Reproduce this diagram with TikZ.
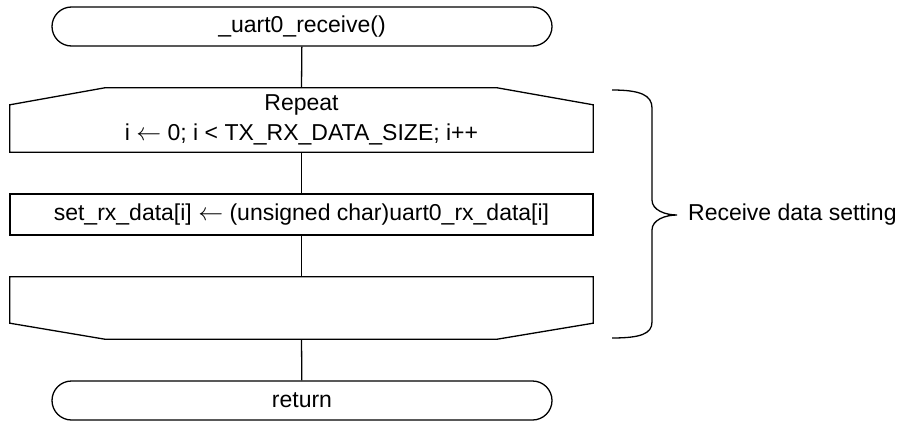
\documentclass[tikz,border=0pt]{standalone}
\usepackage{fontspec}
\setmainfont{Liberation Sans}
\usetikzlibrary{shapes.misc}
\newcommand{\assign}{\ensuremath{\leftarrow}}
\begin{document}
\begin{tikzpicture}[x=1pt,y=-1pt,
  every node/.style={font=\fontsize{23}{30}\selectfont, inner sep=0pt},
  line/.style={line width=1.3pt, line join=miter},
  term/.style={line, draw, rounded rectangle, minimum width=500pt, minimum height=39pt},
  area/.style={minimum width=583pt, align=center},
  procbox/.style={line, draw, minimum width=583pt, minimum height=41pt}]
\useasboundingbox (0,0) rectangle (905,423);

% terminals
\node[term] (start) at (302,26.5) {\_uart0\_receive()};
\node[term] (ret) at (302,400.5) {return};

% loop head
\node[area, minimum height=64pt] (loophead) at (301.5,120)
  {Repeat\\i \assign{} 0; i < TX\_RX\_DATA\_SIZE; i++};
\draw[line] (loophead.south west) -- ([yshift=-17pt]loophead.north west)
  -- ([xshift=95pt]loophead.north west) -- ([xshift=-96pt]loophead.north east)
  -- ([yshift=-17pt]loophead.north east) -- (loophead.south east) -- cycle;

% loop body
\node[procbox] (body) at (301.5,214.5)
  {set\_rx\_data[i] \assign{} (unsigned char)uart0\_rx\_data[i]};

% loop end
\node[area, minimum height=62pt] (loopend) at (301.5,308) {};
\draw[line] (loopend.north west) -- (loopend.north east)
  -- ([yshift=16pt]loopend.south east) -- ([xshift=-96pt]loopend.south east)
  -- ([xshift=95pt]loopend.south west) -- ([yshift=16pt]loopend.south west) -- cycle;

% flow lines
\draw[line] (start) -- (loophead.north);
\draw[line] (loophead.south) -- (body);
\draw[line] (body) -- (loopend.north);
\draw[line] (loopend.south) -- (ret);

% brace and its label
\draw[line] (612,90) .. controls (640,90) and (652,95) .. (652,108)
  -- (652,200) .. controls (652,210) and (665,215) .. (677,215)
  .. controls (665,215) and (652,220) .. (652,230)
  -- (652,322) .. controls (652,334) and (640,338) .. (612,338);
\node[anchor=west] (lbl) at (688,215) {Receive data setting};
\end{tikzpicture}
\end{document}
